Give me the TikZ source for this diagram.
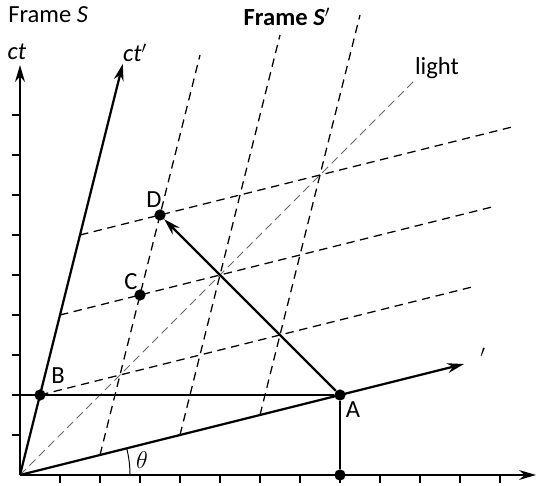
\documentclass[tikz,border=0pt]{standalone}
\usepackage{fontspec}
\setmainfont{Carlito}
\usetikzlibrary{arrows.meta}
\begin{document}
\begin{tikzpicture}[x=1cm,y=1cm,
  font=\fontsize{17.5}{20}\selectfont,
  axisline/.style={line width=1.6pt,-{Stealth[length=12pt,width=7pt]}},
  solidline/.style={line width=1.6pt},
  tickline/.style={line width=0.8pt},
  gridline/.style={line width=0.9pt,dash pattern=on 6pt off 4pt},
  lightline/.style={black!60,line width=0.7pt,dash pattern=on 6pt off 3.5pt},
  dot/.style={circle,fill,inner sep=0pt,minimum size=8pt},
  lbl/.style={inner sep=0pt}]
\useasboundingbox (-0.5,-0.25) rectangle (12.925,11.875);
% coordinates
\coordinate (O) at (0,0);
\coordinate (ctend) at (0,10.25);
\coordinate (xend) at (12.9,0);
\coordinate (ctpend) at (2.57,10.28);
\coordinate (xpend) at (11.1,2.775);
\coordinate (Y2) at (0,2);
\coordinate (lightend) at (9.9,9.9);
% ticks
\foreach \i in {1,...,12} \draw[tickline] (\i,0) -- (\i,-0.2);
\foreach \j in {1,...,9} \draw[tickline] (0,\j) -- (-0.2,\j);
% grid of S'
\foreach \a in {0.5,1,1.5}
  \draw[gridline] ({4*\a},{\a}) -- ({4*\a+2.5},{\a+10});
\foreach \b in {0.5,1,1.5}
  \draw[gridline] ({\b},{4*\b}) -- ({\b+10.8},{4*\b+2.7});
% light line
\draw[lightline] (O) -- (lightend);
% angle
\draw[line width=0.7pt] (2.75,0) arc[start angle=0,end angle=14.04,radius=2.75];
% points
\node[dot] (A) at (8,2) {};
\node[dot] (A0) at (8,0) {};
\node[dot] (B) at (0.5,2) {};
\node[dot] (C) at (3,4.5) {};
\node[dot] (D) at (3.5,6.5) {};
% solid lines
\draw[solidline] (Y2) -- (A);
\draw[solidline] (A) -- (A0);
\draw[solidline,-{Stealth[length=12pt,width=7pt]}] (A) -- (D);
% axes
\draw[axisline] (O) -- (ctend);
\draw[axisline] (O) -- (xend);
\draw[axisline] (O) -- (ctpend);
\draw[axisline] (O) -- (xpend);
% labels
\node[lbl,anchor=west] (fs) at (-0.3,11.5) {Frame \textit{S}};
\node[lbl] (ctl) at (-0.075,10.575) {\textit{ct}};
\node[lbl] (ctpl) at (2.875,10.55) {\textit{ct}$'$};
\node[lbl] (fsp) at (6.675,11.45) {\textbf{Frame \textit{S}$'$}};
\node[lbl] (lightl) at (10.425,10.175) {light};
\node[lbl] (xpl) at (11.575,2.95) {$'$};
\node[lbl] (Bl) at (0.95,2.475) {B};
\node[lbl] (Al) at (8.325,1.625) {A};
\node[lbl] (Cl) at (2.775,4.825) {C};
\node[lbl] (Dl) at (3.35,6.875) {D};
\node[lbl] (thl) at (3.05,0.375) {$\theta$};
\end{tikzpicture}
\end{document}
